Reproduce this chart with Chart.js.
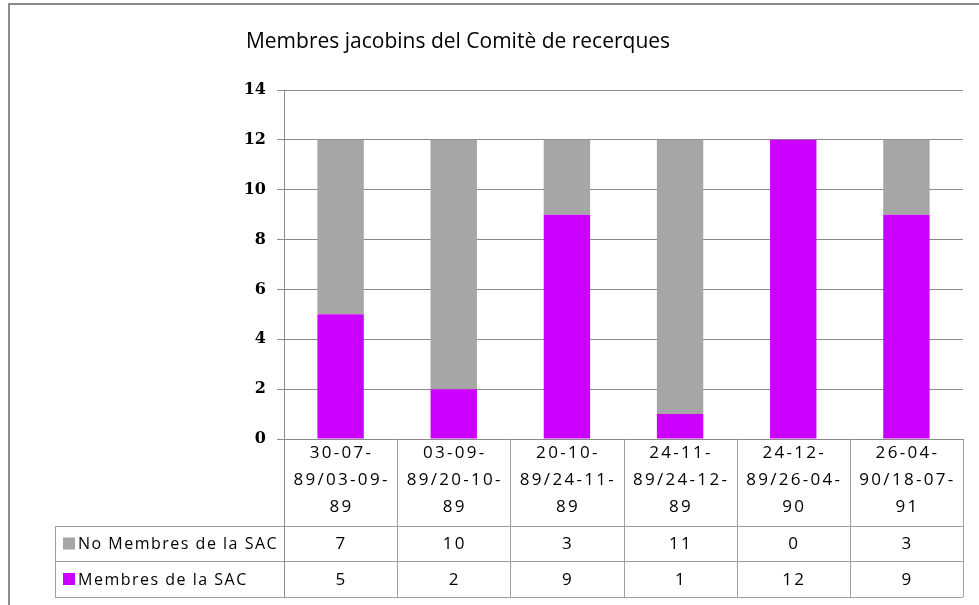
<!DOCTYPE html>
<html>
<head>
<meta charset="utf-8">
<script src="https://cdn.jsdelivr.net/npm/chart.js@4.4.1/dist/chart.umd.min.js"></script>
<style>
  html, body { margin: 0; padding: 0; background: #ffffff; }
  #wrap { width: 979px; height: 605px; }
</style>
</head>
<body>
<div id="wrap"><canvas id="chart" width="979" height="605"></canvas></div>
<script>
// Data
const chartTitle = "Membres jacobins del Comitè de recerques";
const categories = [
    ["30-07-", "89/03-09-", "89"],
    ["03-09-", "89/20-10-", "89"],
    ["20-10-", "89/24-11-", "89"],
    ["24-11-", "89/24-12-", "89"],
    ["24-12-", "89/26-04-", "90"],
    ["26-04-", "90/18-07-", "91"]
];
const seriesNames = ["Membres de la SAC", "No Membres de la SAC"];
const membres = [5, 2, 9, 1, 12, 9];
const noMembres = [7, 10, 3, 11, 0, 3];
const yMin = 0;
const yMax = 14;
const yStep = 2;

const colMembres = "#cc00ff";
const colNoMembres = "#a6a6a6";
const gridColor = "#8a8a8a";
const tableColor = "#a0a0a0";
const textFont = "'Open Sans', 'Noto Sans', sans-serif";

// Title, data table and outer frame, drawn after the bars
const tablePlugin = {
    id: "tablePlugin",
    afterDraw: function (chart) {
        const ctx = chart.ctx;
        const x = chart.scales.x;
        const area = chart.chartArea;
        const half = (area.right - area.left) / categories.length / 2;
        const labelTop = area.bottom;
        const row1 = 526, row2 = 561, row3 = 597;
        const legendLeft = 55;

        ctx.save();

        // outer frame (cropped)
        ctx.strokeStyle = "#8c8c8c";
        ctx.lineWidth = 2;
        ctx.beginPath();
        ctx.moveTo(9, 605);
        ctx.lineTo(9, 4);
        ctx.lineTo(979, 4);
        ctx.stroke();

        // title
        ctx.fillStyle = "#000000";
        ctx.font = "21px " + textFont;
        ctx.textAlign = "center";
        ctx.textBaseline = "middle";
        ctx.fillText(chartTitle, 458, 42);

        // table lines
        ctx.strokeStyle = tableColor;
        ctx.lineWidth = 1;
        ctx.beginPath();
        [row1, row2, row3].forEach(function (yy) {
            ctx.moveTo(legendLeft, yy + 0.5);
            ctx.lineTo(area.right, yy + 0.5);
        });
        ctx.moveTo(legendLeft + 0.5, row1);
        ctx.lineTo(legendLeft + 0.5, row3);
        for (let i = 0; i < categories.length; i++) {
            const xr = Math.round(x.getPixelForValue(i) + half) + 0.5;
            ctx.moveTo(xr, labelTop);
            ctx.lineTo(xr, row3);
        }
        ctx.stroke();
        ctx.strokeStyle = gridColor;
        ctx.beginPath();
        ctx.moveTo(Math.round(area.left) + 0.5, labelTop);
        ctx.lineTo(Math.round(area.left) + 0.5, row3);
        ctx.stroke();

        // category labels
        ctx.fillStyle = "#000000";
        ctx.font = "17px " + textFont;
        ctx.letterSpacing = "2.3px";
        ctx.textAlign = "center";
        categories.forEach(function (lines, i) {
            const cx = x.getPixelForValue(i) + 1;
            lines.forEach(function (line, j) {
                ctx.fillText(line, cx, labelTop + 14 + j * 27);
            });
        });

        // table rows
        const rows = [
            { name: seriesNames[1], color: colNoMembres, values: noMembres, y: (row1 + row2) / 2 },
            { name: seriesNames[0], color: colMembres, values: membres, y: (row2 + row3) / 2 }
        ];
        rows.forEach(function (r) {
            ctx.fillStyle = r.color;
            ctx.fillRect(63, r.y - 6, 12, 12);
            ctx.fillStyle = "#000000";
            ctx.font = "16px " + textFont;
            ctx.letterSpacing = "1.5px";
            ctx.textAlign = "left";
            ctx.fillText(r.name, 78, r.y + 1);
            ctx.font = "17px " + textFont;
            ctx.letterSpacing = "2.3px";
            ctx.textAlign = "center";
            r.values.forEach(function (v, i) {
                ctx.fillText(String(v), x.getPixelForValue(i) + 1, r.y + 1);
            });
        });

        ctx.restore();
    }
};

const ctx1 = document.getElementById("chart").getContext("2d");
const myChart = new Chart(ctx1, {
    type: "bar",
    data: {
        labels: categories,
        datasets: [
            {
                label: seriesNames[0],
                data: membres,
                backgroundColor: colMembres
            },
            {
                label: seriesNames[1],
                data: noMembres,
                backgroundColor: colNoMembres
            }
        ]
    },
    options: {
        responsive: false,
        animation: false,
        layout: {
            padding: { left: 0, right: 16, top: 90, bottom: 166 }
        },
        datasets: {
            bar: { categoryPercentage: 1, barPercentage: 0.41 }
        },
        plugins: {
            legend: { display: false },
            title: { display: false },
            tooltip: { enabled: false }
        },
        scales: {
            x: {
                stacked: true,
                display: false
            },
            y: {
                stacked: true,
                min: yMin,
                max: yMax,
                afterFit: function (scale) { scale.width = 284; },
                ticks: {
                    stepSize: yStep,
                    color: "#000000",
                    padding: 11,
                    font: { family: "'DejaVu Serif', serif", size: 16, weight: "bold" }
                },
                grid: {
                    color: gridColor,
                    tickLength: 7
                },
                border: { color: gridColor }
            }
        }
    },
    plugins: [tablePlugin]
});
</script>
</body>
</html>
